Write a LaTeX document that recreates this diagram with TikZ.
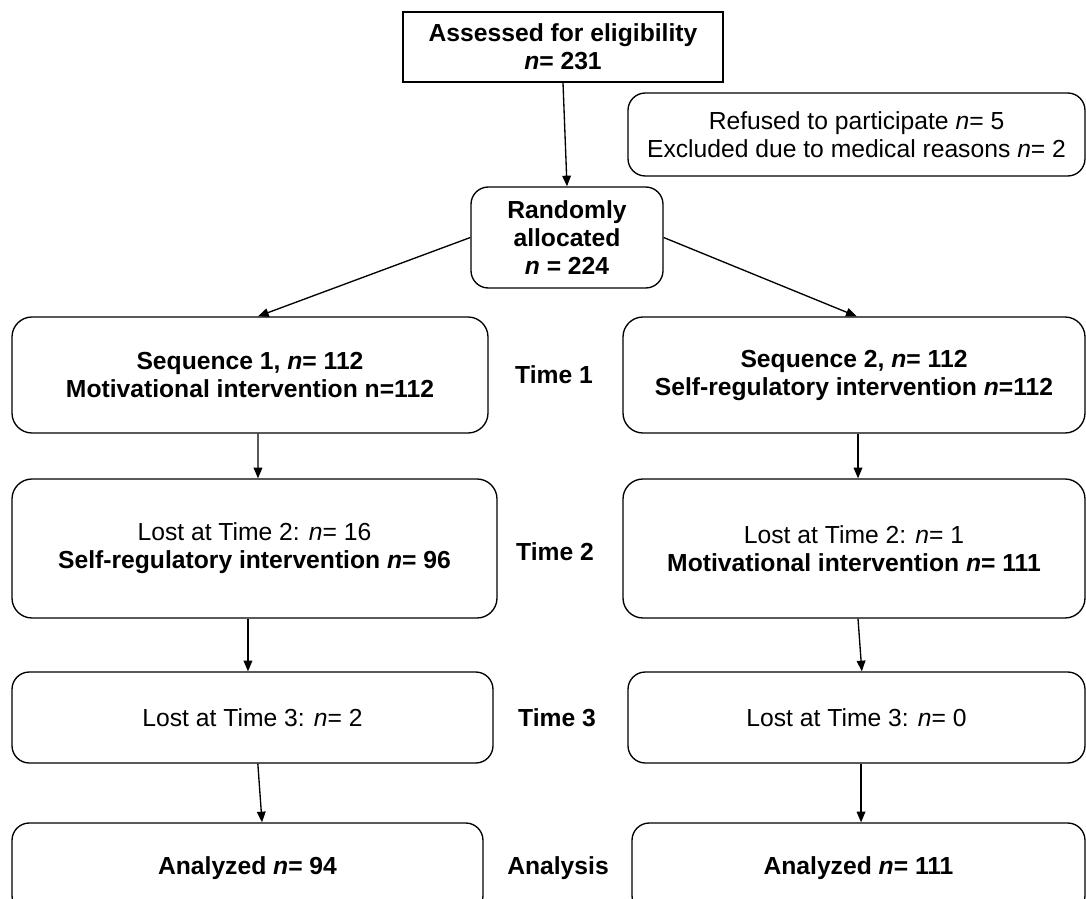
\documentclass[tikz,border=0pt]{standalone}
\usepackage{fontspec}
\setmainfont{Liberation Sans}
\usetikzlibrary{arrows.meta}

\begin{document}
\begin{tikzpicture}[x=0.75pt, y=-0.75pt,
  box/.style={draw, line width=1pt, rounded corners=13pt, align=center, inner sep=0pt,
    font=\fontsize{18.5}{21}\selectfont},
  timelbl/.style={font=\fontsize{18.5}{21}\selectfont\bfseries},
  arr/.style={-{Triangle[length=8pt, width=6.5pt]}, line width=1pt}]
\useasboundingbox (0,0) rectangle (1086,899);

\node[box, rounded corners=0pt, minimum width=240pt, minimum height=52.5pt] (assess) at (563,47)
  {\textbf{Assessed for eligibility}\\\textbf{\textit{n}= 231}};
\node[box, minimum width=342.75pt, minimum height=62.25pt] (refused) at (856.5,134.5)
  {Refused to participate \textit{n}= 5\\Excluded due to medical reasons \textit{n}= 2};
\node[box, minimum width=144pt, minimum height=75.75pt] (random) at (567,237.5)
  {\textbf{Randomly}\\\textbf{allocated}\\\textbf{\textit{n} = 224}};

\node[box, rounded corners=15pt, minimum width=357pt, minimum height=87pt] (seqA) at (250,375)
  {\textbf{Sequence 1, \textit{n}= 112}\\\textbf{Motivational intervention n=112}};
\node[box, rounded corners=15pt, minimum width=346.5pt, minimum height=87pt] (seqB) at (854,375)
  {\textbf{Sequence 2, \textit{n}= 112}\\\textbf{Self-regulatory intervention \textit{n}=112}};
\node[timelbl] (time1) at (554,375) {Time 1};

\node[box, rounded corners=15pt, minimum width=363.75pt, minimum height=104.25pt] (lostA2) at (254.5,548.5)
  {Lost at Time 2: \textit{n}= 16\\\textbf{Self-regulatory intervention \textit{n}= 96}};
\node[box, rounded corners=15pt, minimum width=346.5pt, minimum height=104.25pt] (lostB2) at (854,548.5)
  {Lost at Time 2: \textit{n}= 1\\\textbf{Motivational intervention \textit{n}= 111}};
\node[timelbl] (time2) at (555,552) {Time 2};

\node[box, minimum width=360.75pt, minimum height=68.25pt] (lostA3) at (252.5,717.5)
  {Lost at Time 3: \textit{n}= 2};
\node[box, minimum width=342.75pt, minimum height=68.25pt] (lostB3) at (856.5,717.5)
  {Lost at Time 3: \textit{n}= 0};
\node[timelbl] (time3) at (557,718) {Time 3};

\node[box, minimum width=353.25pt, minimum height=67.5pt] (anA) at (247.5,868)
  {\textbf{Analyzed \textit{n}= 94}};
\node[box, minimum width=339.75pt, minimum height=67.5pt] (anB) at (858.5,868)
  {\textbf{Analyzed \textit{n}= 111}};
\node[timelbl] (analysis) at (558,868) {Analysis};

\draw[arr] (assess.south) -- (random.north);
\draw[arr] (random.west) -- ([xshift=6pt]seqA.north);
\draw[arr] (random.east) -- ([xshift=2pt]seqB.north);
\draw[arr] ([xshift=6pt]seqA.south) -- ([xshift=2.6pt]lostA2.north);
\draw[arr] ([xshift=3pt]seqB.south) -- ([xshift=3pt]lostB2.north);
\draw[arr] ([xshift=-4.9pt]lostA2.south) -- ([xshift=-3.4pt]lostA3.north);
\draw[arr] ([xshift=3pt]lostB2.south) -- ([xshift=4pt]lostB3.north);
\draw[arr] ([xshift=4pt]lostA3.south) -- ([xshift=10.9pt]anA.north);
\draw[arr] ([xshift=3.4pt]lostB3.south) -- ([xshift=1.9pt]anB.north);
\end{tikzpicture}
\end{document}
